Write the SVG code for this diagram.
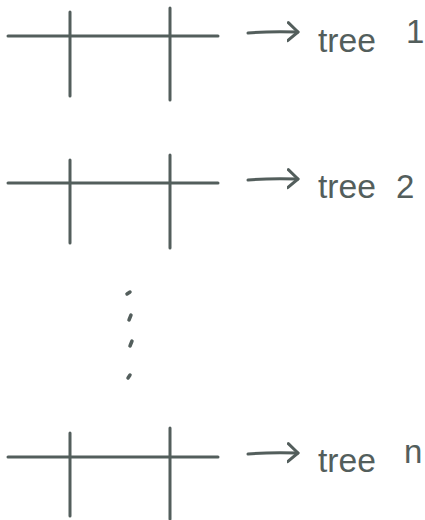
<svg xmlns="http://www.w3.org/2000/svg" width="425" height="520" viewBox="0 0 425 520">
<style>
.ln{stroke:#535e5c;stroke-width:3;stroke-linecap:round;fill:none}
.tx{font-family:"Liberation Sans",Arial,sans-serif;font-size:33px;fill:#535e5c}
.dot{stroke:#535e5c;stroke-width:3.5;stroke-linecap:round}
</style>
<defs>
<marker id="ah" markerWidth="14" markerHeight="22" refX="11" refY="11" orient="auto" markerUnits="userSpaceOnUse">
<path d="M1,2 L11,11 L1,20" fill="none" stroke="#535e5c" stroke-width="3" stroke-linecap="round" stroke-linejoin="round"/>
</marker>
</defs>
<rect width="425" height="520" fill="#ffffff"/>
<g id="split1">
<line class="ln" x1="8" y1="36" x2="218" y2="36"/>
<line class="ln" x1="70" y1="12" x2="70" y2="96"/>
<line class="ln" x1="170" y1="8" x2="170" y2="100"/>
</g>
<g id="tree1">
<text class="tx" x="318" y="52" textLength="58" lengthAdjust="spacingAndGlyphs">tree</text>
<text class="tx" x="406" y="43" font-size="26">1</text>
</g>
<g id="split2">
<line class="ln" x1="8" y1="183" x2="218" y2="183"/>
<line class="ln" x1="70" y1="160" x2="70" y2="243"/>
<line class="ln" x1="170" y1="155" x2="170" y2="248"/>
</g>
<g id="tree2">
<text class="tx" x="318" y="198" textLength="58" lengthAdjust="spacingAndGlyphs">tree</text>
<text class="tx" x="396" y="198">2</text>
</g>
<g id="ellipsis">
<line class="dot" x1="127" y1="294" x2="130" y2="292"/>
<line class="dot" x1="129" y1="320" x2="131" y2="315"/>
<line class="dot" x1="130" y1="346" x2="132" y2="341"/>
<line class="dot" x1="128" y1="378" x2="130" y2="375"/>
</g>
<g id="split3">
<line class="ln" x1="8" y1="457" x2="218" y2="457"/>
<line class="ln" x1="70" y1="433" x2="70" y2="516"/>
<line class="ln" x1="170" y1="428" x2="170" y2="519"/>
</g>
<g id="tree3">
<text class="tx" x="318" y="472" textLength="58" lengthAdjust="spacingAndGlyphs">tree</text>
<text class="tx" x="404" y="463" font-size="28">n</text>
</g>
<g id="connectors">
<path class="ln" d="M248,33 Q270,31 298,32" marker-end="url(#ah)"/>
<path class="ln" d="M248,180 Q270,178 298,179" marker-end="url(#ah)"/>
<path class="ln" d="M248,454 Q270,452 298,453" marker-end="url(#ah)"/>
</g>
</svg>
